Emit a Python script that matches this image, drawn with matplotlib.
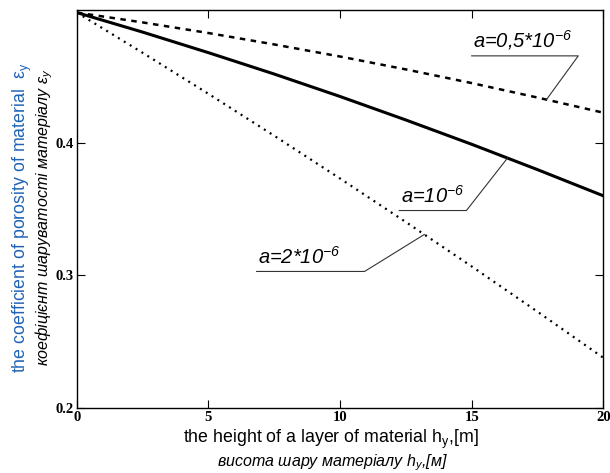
import numpy as np
import matplotlib
matplotlib.use('Agg')
import matplotlib.pyplot as plt

plt.rcParams['font.family'] = ['Liberation Sans', 'DejaVu Sans']
plt.rcParams['mathtext.default'] = 'regular'

# height of the layer, m
h = [0, 2.5, 5, 7.5, 10, 12.5, 15, 17.5, 20]
# porosity for different a
eps_05 = [0.498, 0.4906, 0.4826, 0.4740, 0.4649, 0.4552, 0.4449, 0.4340, 0.4226]
eps_1 = [0.498, 0.4833, 0.4678, 0.4517, 0.4348, 0.4171, 0.3988, 0.3797, 0.360]
eps_2 = [0.498, 0.4677, 0.4368, 0.4052, 0.3730, 0.3402, 0.3068, 0.2727, 0.238]

xticks = [0, 5, 10, 15, 20]
yticks = [0.2, 0.3, 0.4]

fig = plt.figure(figsize=(6.1, 4.73), dpi=100)
ax = fig.add_axes([0.126, 0.137, 0.863, 0.842])

ax.plot(h, eps_05, color='black', lw=1.8, ls=(0, (2.2, 2.2)))
ax.plot(h, eps_1, color='black', lw=2.2, ls='-')
ax.plot(h, eps_2, color='black', lw=1.6, ls=(0, (0.9, 2.2)))

ax.set_xlim(0, 20)
ax.set_ylim(0.2, 0.5)
ax.set_xticks(xticks)
ax.set_yticks(yticks)
ax.set_xticklabels([str(t) for t in xticks], family='Liberation Serif', fontweight='bold', fontsize=10.5)
ax.set_yticklabels([str(t) for t in yticks], family='Liberation Serif', fontweight='bold', fontsize=10.5)
ax.tick_params(direction='in', length=6, width=0.8, top=True, right=True, pad=2)
for s in ax.spines.values():
    s.set_linewidth(1.0)


# labels with underline and leader line to a curve
def label(text, x0, x1, yl, xc, curve):
    yc = np.interp(xc, h, curve)
    ax.plot([x0, x1, xc], [yl, yl, yc], color='#333333', lw=0.8)
    ax.text(x0 + 0.05, yl + 0.003, text, fontsize=14.5, style='italic', ha='left', va='bottom')


label(r'a=0,5*10$^{-6}$', 15.0, 19.05, 0.4654, 17.84, eps_05)
label(r'a=10$^{-6}$', 12.25, 14.8, 0.3489, 16.36, eps_1)
label(r'a=2*10$^{-6}$', 6.83, 10.93, 0.303, 13.2, eps_2)

# axis titles (two lines)
fig.text(0.542, 0.071, r'the height of a layer of material h$_y$,[m]', fontsize=12.8,
         ha='center', va='center')
fig.text(0.545, 0.021, r'висота шару матеріалу h$_y$,[м]', fontsize=11.5, style='italic',
         ha='center', va='center')
fig.text(0.037, 0.54, r'the coefficient of porosity of material  $ε_y$', fontsize=12.8,
         color='#1f63b5', rotation=90, ha='center', va='center')
fig.text(0.073, 0.54, r'коефіцієнт шаруватості матеріалу $ε_y$', fontsize=11.5, style='italic',
         rotation=90, ha='center', va='center')

fig.savefig('out.png', dpi=100)
